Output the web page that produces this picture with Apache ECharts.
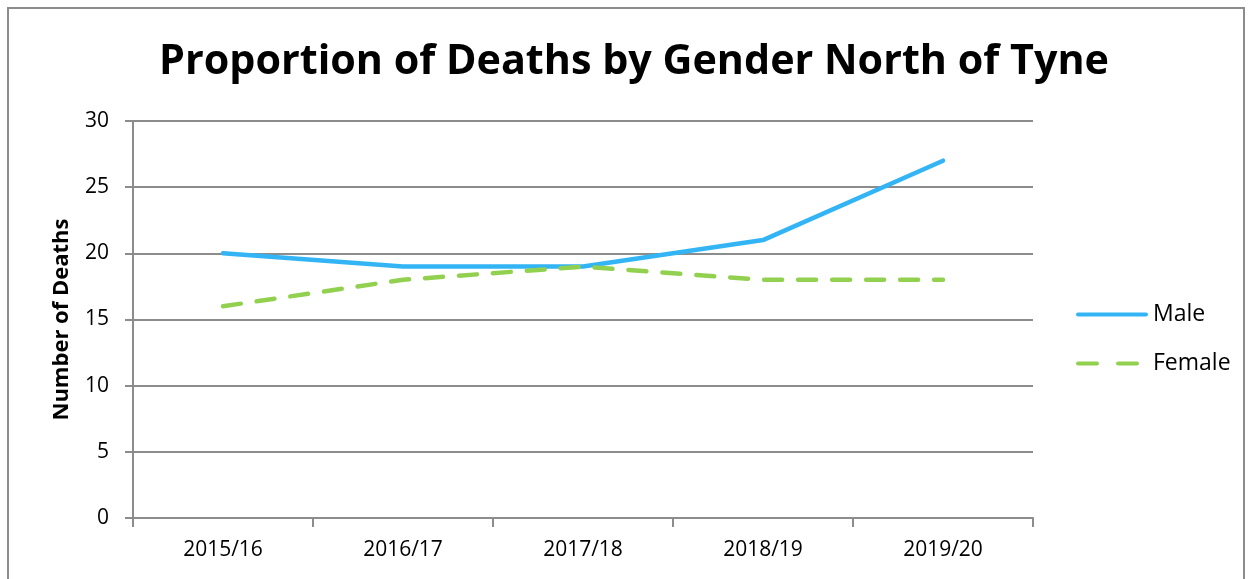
<!DOCTYPE html>
<html>
<head>
<meta charset="utf-8">
<script src="https://cdn.jsdelivr.net/npm/echarts@6/dist/echarts.min.js"></script>
<style>
html,body{margin:0;padding:0;background:#fff;}
#c{width:1252px;height:579px;}
</style>
</head>
<body>
<div id="c"></div>
<script>
const categories = ['2015/16','2016/17','2017/18','2018/19','2019/20'];
const maleValues = [20, 19, 19, 21, 27];
const femaleValues = [16, 18, 19, 18, 18];
const yTicks = {min: 0, max: 30, interval: 5};

const FONT = '"Open Sans", "Noto Sans", sans-serif';
const chart = echarts.init(document.getElementById('c'), null, {renderer: 'canvas'});
chart.setOption({
  animation: false,
  textStyle: {fontFamily: FONT},
  title: {
    text: 'Proportion of Deaths by Gender North of Tyne',
    left: 154,
    top: 37,
    textStyle: {fontSize: 41.3, fontWeight: 'bold', color: '#000', fontFamily: FONT}
  },
  graphic: [{
    type: 'rect',
    shape: {x: 8, y: 8, width: 1236, height: 620},
    style: {fill: 'none', stroke: '#8c8c8c', lineWidth: 2},
    silent: true
  }],
  grid: {left: 133, right: 219, top: 121, bottom: 61},
  legend: {
    orient: 'vertical',
    left: 1071,
    top: 298,
    itemWidth: 72,
    itemHeight: 5,
    itemGap: 26,
    textStyle: {fontSize: 23, color: '#000', fontFamily: FONT},
    data: [
      {name: 'Male', icon: 'path://M2,0H70A2,2 0 0 1 70,4H2A2,2 0 0 1 2,0Z'},
      {name: 'Female', icon: 'path://M2,0H21A2,2 0 0 1 21,4H2A2,2 0 0 1 2,0Z M42,0H61A2,2 0 0 1 61,4H42A2,2 0 0 1 42,0Z M72,2'}
    ]
  },
  xAxis: {
    type: 'category',
    data: categories,
    boundaryGap: true,
    axisLine: {lineStyle: {color: '#8c8c8c', width: 2}},
    axisTick: {show: true, length: 9, alignWithLabel: false, lineStyle: {color: '#8c8c8c', width: 2}},
    axisLabel: {fontSize: 21, color: '#000', margin: 22, fontFamily: FONT},
    splitLine: {show: false}
  },
  yAxis: {
    type: 'value',
    min: yTicks.min,
    max: yTicks.max,
    interval: yTicks.interval,
    name: 'Number of Deaths',
    nameLocation: 'middle',
    nameGap: 60,
    nameRotate: 90,
    nameTextStyle: {fontSize: 22, fontWeight: 'bold', color: '#000', fontFamily: FONT},
    axisLine: {show: true, lineStyle: {color: '#8c8c8c', width: 2}},
    axisTick: {show: true, length: 8, lineStyle: {color: '#8c8c8c', width: 2}},
    axisLabel: {fontSize: 21, color: '#000', margin: 24, fontFamily: FONT},
    splitLine: {show: true, lineStyle: {color: '#8c8c8c', width: 2}}
  },
  series: [
    {
      name: 'Male',
      type: 'line',
      data: maleValues,
      symbol: 'none',
      lineStyle: {color: '#33b5f5', width: 4.5, cap: 'round', join: 'round'},
      itemStyle: {color: '#33b5f5'}
    },
    {
      name: 'Female',
      type: 'line',
      data: femaleValues,
      symbol: 'none',
      lineStyle: {color: '#92d050', width: 4.5, type: [18, 16], cap: 'round', join: 'round'},
      itemStyle: {color: '#92d050'}
    }
  ]
});
</script>
</body>
</html>
